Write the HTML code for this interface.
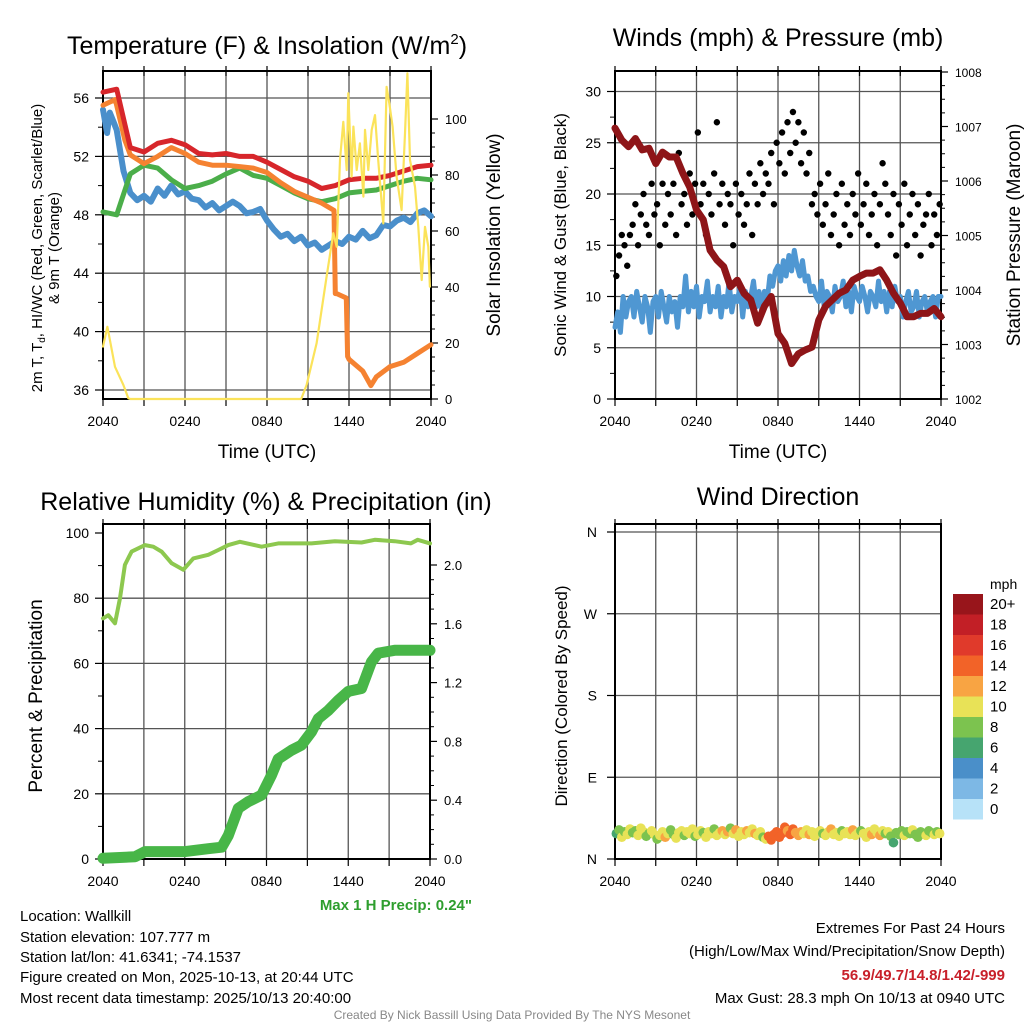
<!DOCTYPE html>
<html><head><meta charset="utf-8"><style>
html,body{margin:0;padding:0;background:#fff;}
svg{display:block;font-family:"Liberation Sans",Arial,sans-serif;}
</style></head><body>
<svg id="fig" width="1024" height="1024" viewBox="0 0 1024 1024" xmlns="http://www.w3.org/2000/svg">
<rect width="1024" height="1024" fill="#fff"/>
<g id="layer"></g>
<text x="267" y="54" font-size="25" text-anchor="middle">Temperature (F) &amp; Insolation (W/m<tspan font-size="15" dy="-10">2</tspan><tspan dy="10">)</tspan></text>
<text x="778" y="46" font-size="25" text-anchor="middle">Winds (mph) &amp; Pressure (mb)</text>
<text x="266" y="510" font-size="25" text-anchor="middle">Relative Humidity (%) &amp; Precipitation (in)</text>
<text x="778" y="505" font-size="25" text-anchor="middle">Wind Direction</text>
<text transform="translate(42,248) rotate(-90)" font-size="15" text-anchor="middle">2m T, T<tspan font-size="10" dy="3">d</tspan><tspan dy="-3">, HI/WC (Red, Green, Scarlet/Blue)</tspan></text>
<text transform="translate(59,248) rotate(-90)" font-size="15" text-anchor="middle">&amp; 9m T (Orange)</text>
<text transform="translate(500,235) rotate(-90)" font-size="19" text-anchor="middle">Solar Insolation (Yellow)</text>
<text x="267" y="458" font-size="19" text-anchor="middle">Time (UTC)</text>
<text x="778" y="458" font-size="19" text-anchor="middle">Time (UTC)</text>
<text transform="translate(566,235) rotate(-90)" font-size="17" text-anchor="middle">Sonic Wind &amp; Gust (Blue, Black)</text>
<text transform="translate(1020,235) rotate(-90)" font-size="19" text-anchor="middle">Station Pressure (Maroon)</text>
<text transform="translate(42,696) rotate(-90)" font-size="19" text-anchor="middle">Percent &amp; Precipitation</text>
<text transform="translate(567,696) rotate(-90)" font-size="17" text-anchor="middle">Direction (Colored By Speed)</text>
<text x="472" y="910" font-size="15" font-weight="bold" fill="#2e9e2e" text-anchor="end">Max 1 H Precip: 0.24"</text>
<g font-size="15">
<text x="20" y="921">Location: Wallkill</text>
<text x="20" y="942">Station elevation: 107.777 m</text>
<text x="20" y="962">Station lat/lon: 41.6341; -74.1537</text>
<text x="20" y="982">Figure created on Mon, 2025-10-13, at 20:44 UTC</text>
<text x="20" y="1003">Most recent data timestamp: 2025/10/13 20:40:00</text>
</g>
<g font-size="15" text-anchor="end">
<text x="1005" y="933">Extremes For Past 24 Hours</text>
<text x="1005" y="956">(High/Low/Max Wind/Precipitation/Snow Depth)</text>
<text x="1005" y="980" font-weight="bold" fill="#c8202a">56.9/49.7/14.8/1.42/-999</text>
<text x="1005" y="1003">Max Gust: 28.3 mph On 10/13 at 0940 UTC</text>
</g>
<text x="512" y="1019" font-size="12" fill="#888" text-anchor="middle">Created By Nick Bassill Using Data Provided By The NYS Mesonet</text>
</svg>
<script>
// ---------- DATA ----------
const xTickLabels=["2040","0240","0840","1440","2040"];
const tempTicks=[36,40,44,48,52,56];
const solarTicks=[0,20,40,60,80,100];
const windTicks=[0,5,10,15,20,25,30];
const presTicks=[1002,1003,1004,1005,1006,1007,1008];
const rhTicks=[0,20,40,60,80,100];
const precipTicks=["0.0","0.4","0.8","1.2","1.6","2.0"];
const dirTicks=["N","E","S","W","N"];
const hourly=[0,1,2,3,4,5,6,7,8,9,10,11,12,13,14,15,16,17,18,19,20,21,22,23,24];
const redT=[56.4,56.6,52.6,52.3,52.9,53.1,52.8,52.2,52.1,52.2,52.0,52.0,51.6,51.1,50.6,50.3,49.8,50.0,50.4,50.5,50.5,50.7,51.0,51.3,51.4];
const greenTd=[48.2,48.0,50.8,51.4,51.2,50.4,49.8,50.0,50.3,50.8,51.2,50.7,50.5,50.0,49.5,49.1,48.9,49.1,49.5,49.6,49.7,50.0,50.3,50.5,50.4];
const orangeHours=[0,0.9,1.6,2,3,4,5,6,7,8,9,10,11,12,13,14,15,16,16.9,17.0,17.1,17.8,17.9,18,19,19.6,20,21,22,23,24];
const orangeT=[55.5,55.9,53.1,52.1,51.5,52.0,52.6,52.2,51.6,51.4,51.4,51.3,51.2,50.9,50.2,49.6,49.2,48.8,48.3,42.6,42.6,42.3,38.3,38.1,37.3,36.3,36.9,37.6,37.9,38.5,39.1];
const blueHours=[0,0.3,0.5,0.8,1,1.5,2,2.5,3,3.5,4,4.5,5,5.5,6,6.5,7,7.5,8,8.5,9,9.5,10,10.5,11,11.5,12,12.5,13,13.5,14,14.5,15,15.5,16,16.5,17,17.5,18,18.5,19,19.5,20,20.5,21,21.5,22,22.5,23,23.5,24];
const blueT=[55.2,53.6,55.0,54.3,53.8,51.0,49.5,49.0,49.3,48.9,49.8,49.3,50.0,49.4,49.6,49.1,49.0,48.5,48.8,48.3,48.6,48.9,48.6,48.1,48.2,48.4,47.6,47.0,46.5,46.7,46.2,46.5,45.9,46.1,45.6,45.9,46.2,46.0,46.5,46.3,46.9,46.4,46.6,47.3,47.2,47.6,47.8,47.5,48.1,48.3,47.9];
const solarHours=[0,0.32,0.88,1.49,1.85,2,14.5,14.9,15.63,16.36,16.85,17.1,17.34,17.58,17.83,17.95,18.19,18.32,18.56,18.8,19.05,19.17,19.41,19.66,19.9,20.14,20.51,20.75,20.95,21.19,21.48,21.85,22.1,22.27,22.46,22.83,23.07,23.32,23.56,23.8,23.92];
const solarW=[18.7,25.8,11.5,5.0,0.3,0,0,5.0,19.9,43.7,59.2,54.4,85.4,99.0,81.8,109.2,79.4,97.3,81.8,91.3,72.3,96.1,81.8,96.1,101.4,85.4,62.7,111.5,105.6,97.3,79.4,67.5,94.9,116.3,85.4,75.8,61.5,42.5,61.5,54.4,40.1];
const windSpeed=[7,8.5,6.5,10,8,9.5,10,8,10.5,9,7.5,10,9,6.5,9.5,10,8,10.5,9,7.5,10,8.5,9.5,7,10,9,12,8.5,10.5,9,11,8,10,9.5,11.5,8.5,10,9,11,8,10,9,11.5,8.5,10,9.5,11,8,10.5,9,10,11.5,9,10.5,8.5,10.5,9.5,12,11,12.5,13,11.5,13.5,12,14,12.5,14.5,13,12,13.5,11.5,12,10.5,11,10,9.5,11.5,9,10.5,10,8.5,11,9.5,10,11.5,9,10.5,8.5,11,10,9.5,11,10,8.5,10.5,10,9,11.5,9.5,10.5,8.5,10.5,9,11,9.5,10,8,9.5,10.5,8.5,9,10.5,8,9.5,10,8.5,9.5,10,8,10,10];
const gustSpeed=[12,14,16,15,13,16,17,19,15,18,20,17,16,21,18,19,15,21,17,20,18,21,16,24,19,20,17,22,18,21,26,19,21,16,20,18,22,27,19,21,17,20,19,15,21,18,20,17,19,22,16,21,19,23,20,22,21,24,19,25,23,26,22,27,24,28,25,27,23,26,22,24,19,20,18,21,17,19,22,16,18,20,15,21,17,19,16,20,18,22,17,19,21,16,18,20,15,19,23,21,18,16,20,14,19,17,21,15,18,20,16,19,14,17,18,20,15,18,16,19];
const presHours=[0,0.5,1,1.5,2,2.5,3,3.5,4,4.5,5,5.5,6,6.5,7,7.5,8,8.5,9,9.5,10,10.5,11,11.5,12,12.5,13,13.5,14,14.5,15,15.5,16,16.5,17,17.5,18,18.5,19,19.5,20,20.5,21,21.5,22,22.5,23,23.5,24];
const pressure=[1006.97,1006.75,1006.63,1006.78,1006.57,1006.6,1006.32,1006.53,1006.44,1006.44,1006.14,1005.89,1005.47,1005.29,1004.73,1004.55,1004.43,1004.06,1004.18,1003.94,1003.82,1003.39,1003.7,1003.88,1003.2,1003.02,1002.65,1002.83,1002.9,1002.95,1003.45,1003.7,1003.82,1003.94,1004.0,1004.18,1004.25,1004.31,1004.31,1004.37,1004.18,1003.94,1003.76,1003.51,1003.51,1003.57,1003.57,1003.66,1003.51];
const rhHours=[0,0.39,0.88,1.25,1.61,2.1,3.08,3.69,4.3,5.04,5.89,6.63,7.73,8.46,9.2,10.05,11.64,12.86,15.3,17.02,18.97,19.95,21.4,22.6,23.1,24];
const rh=[73.8,74.8,72.3,80,90.2,94.3,96.3,95.8,94.3,90.7,88.7,92.2,93.3,94.8,96.3,97.3,95.8,96.8,96.8,97.5,97.1,97.9,97.5,96.8,97.9,96.8];
const precipHours=[0,2.35,3.08,6.02,7.73,8.71,9.2,9.93,10.66,11.64,12.37,12.86,13.84,14.57,15.3,15.8,16.53,17.27,18.0,18.97,19.7,20.2,21.4,24];
const precip=[0.005,0.015,0.05,0.05,0.07,0.08,0.16,0.345,0.39,0.435,0.57,0.68,0.74,0.775,0.865,0.955,1.01,1.08,1.14,1.16,1.34,1.40,1.42,1.42];
const windDir=[28,32,24,30,27,33,29,31,26,34,30,25,28,31,27,22,26,30,24,28,32,27,23,29,31,26,30,28,33,25,27,31,29,24,30,28,33,26,29,31,27,30,34,28,32,25,30,27,31,29,33,28,26,30,24,22,25,21,27,30,24,28,35,31,27,33,29,26,30,28,32,27,30,25,29,31,28,26,30,33,27,29,25,31,28,30,27,32,26,29,31,28,24,30,27,33,29,26,31,28,30,25,18,29,27,31,26,30,28,32,27,24,30,28,26,31,29,27,30,28];
const dirSpeed=[7,8,10,9,11,10,8,9,10,11,10,9,8,10,11,9,10,11,12,10,9,8,10,11,10,9,10,11,10,9,10,11,8,10,11,10,9,11,10,12,11,12,9,10,12,11,10,11,12,10,11,12,11,10,9,11,14,15,14,15,14,15,14,13,15,14,12,13,12,11,10,12,11,10,11,10,9,11,10,12,10,11,10,9,10,11,10,12,11,10,9,11,10,11,12,10,11,12,10,9,10,8,7,9,8,9,10,8,9,10,8,9,8,9,10,8,9,10,9,10];
const cbLabels=["20+","18","16","14","12","10","8","6","4","2","0"];
const cbColors=["#98151b","#c21f26","#e03a2b","#f26328","#f8a443","#e8e257","#7cc34f","#46a56f","#4a8fc9","#7db8e5","#b7e2f8"];

// ---------- DRAWING ----------
const NS="http://www.w3.org/2000/svg";
const layer=document.getElementById('layer');
function mk(tag,attrs,parent){const e=document.createElementNS(NS,tag);for(const k in attrs)e.setAttribute(k,attrs[k]);(parent||layer).appendChild(e);return e;}
function txt(x,y,s,size,anchor,parent){const t=mk('text',{x:x,y:y,'font-size':size,'text-anchor':anchor},parent);t.textContent=s;return t;}
const P1={L:103,R:431,T:71,B:399},P2={L:615,R:941,T:71,B:399},P3={L:103,R:430,T:524,B:859},P4={L:615,R:941,T:524,B:859};
function xs(P){return h=>P.L+h*(P.R-P.L)/24;}
const x1=xs(P1),x2=xs(P2),x3=xs(P3),x4=xs(P4);
const yTemp=v=>98+(56-v)*14.6, ySolar=v=>399-v*2.8;
const yWind=v=>399-v*10.25, yPres=v=>399-(v-1002)*54.5;
const yRH=v=>859-v*3.26, yPrecip=v=>859-v*147;
const yDir=v=>859-v*(327/360);

function frame(P,name,xf,hGrid){
  const g=mk('g',{});
  
  
  for(let h=3;h<24;h+=3){const l=mk('line',{x1:xf(h),x2:xf(h),y1:P.T,y2:P.B,stroke:'#555','stroke-width':1.3},g);
    
    }
  hGrid.forEach(y=>{const l=mk('line',{x1:P.L,x2:P.R,y1:y,y2:y,stroke:'#555','stroke-width':1.3},g);
    
    });
  for(let h=0;h<=24;h+=3){
    mk('line',{x1:xf(h),x2:xf(h),y1:P.B,y2:P.B+7,stroke:'#000','stroke-width':1.2},g);
    mk('line',{x1:xf(h),x2:xf(h),y1:P.T-5,y2:P.T+5,stroke:'#000','stroke-width':1.2},g);
  }
  xTickLabels.forEach((s,i)=>{const t=txt(xf(i*6),P.B+27,s,14,'middle',g);
    
    });
  return g;
}
function frameBox(P,g){const r=mk('rect',{x:P.L,y:P.T,width:P.R-P.L,height:P.B-P.T,fill:'none',stroke:'#000','stroke-width':2},g);
  
  }
function leftTicks(P,vals,yf,labels,g,minor){
  vals.forEach((v,i)=>{mk('line',{x1:P.L-8,x2:P.L,y1:yf(v),y2:yf(v),stroke:'#000','stroke-width':1.2},g);
    const t=txt(P.L-14,yf(v)+5,labels?labels[i]:String(v),14,'end',g);
    
    });
  if(minor)for(let i=0;i<vals.length-1;i++){const m=(vals[i]+vals[i+1])/2;mk('line',{x1:P.L-5,x2:P.L,y1:yf(m),y2:yf(m),stroke:'#000','stroke-width':1},g);}
}
function rightTicks(P,vals,yf,labels,g,nm){
  vals.forEach((v,i)=>{mk('line',{x1:P.R,x2:P.R+7,y1:yf(v),y2:yf(v),stroke:'#000','stroke-width':1.2},g);
    const t=txt(P.R+14,yf(v)+5,labels?labels[i]:String(v),nm||13,'start',g);
    
    });
  for(let i=0;i<vals.length-1;i++){for(let k=1;k<4;k++){const m=vals[i]+(vals[i+1]-vals[i])*k/4;mk('line',{x1:P.R,x2:P.R+4,y1:yf(m),y2:yf(m),stroke:'#000','stroke-width':1},g);}}
}
function line(hs,vs,xf,yf,color,w,name){
  const d=hs.map((h,i)=>(i?'L':'M')+xf(h).toFixed(1)+' '+yf(vs[i]).toFixed(1)).join(' ');
  const p=mk('path',{d:d,fill:'none',stroke:color,'stroke-width':w,'stroke-linejoin':'round','stroke-linecap':'round'});
  
  
  return p;
}

// Panel 1
let g1=frame(P1,'temperature',x1,tempTicks.map(yTemp));
leftTicks(P1,tempTicks,yTemp,null,g1,true);
rightTicks(P1,solarTicks,ySolar,null,g1);
line(blueHours,blueT,x1,yTemp,'#4a8fcb',6,'wind-chill-line');
line(hourly,greenTd,x1,yTemp,'#4bae4a',5,'dewpoint-line');
line(orangeHours,orangeT,x1,yTemp,'#f58231',5,'temp-9m-line');
line(hourly,redT,x1,yTemp,'#d7262b',5,'temp-2m-line');
line(solarHours,solarW,x1,ySolar,'#fbe35a',2.2,'solar-insolation-line');
frameBox(P1,g1);

// Panel 2
let g2=frame(P2,'wind',x2,windTicks.filter(v=>v>0).map(yWind));
leftTicks(P2,windTicks,yWind,null,g2,true);
rightTicks(P2,presTicks,yPres,null,g2,12);
line(windSpeed.map((v,i)=>i*0.2),windSpeed,x2,yWind,'#4f97d2',5,'sonic-wind-line');
gustSpeed.forEach((v,i)=>{const c=mk('circle',{cx:x2(i*0.2+0.1),cy:yWind(v),r:3.2,fill:'#000'});
  
  });
line(presHours,pressure,x2,yPres,'#8e1518',7,'pressure-line');
frameBox(P2,g2);

// Panel 3
let g3=frame(P3,'humidity',x3,rhTicks.filter(v=>v>0&&v<100).map(yRH));
leftTicks(P3,rhTicks,yRH,null,g3,true);
rightTicks(P3,precipTicks.map(Number),yPrecip,precipTicks,g3);
line(rhHours,rh,x3,yRH,'#8dc84f',4,'relative-humidity-line');
line(precipHours,precip,x3,yPrecip,'#48b648',11,'precipitation-line');
frameBox(P3,g3);

// Panel 4
let g4=frame(P4,'direction',x4,[90,180,270,360].map(yDir));
dirTicks.forEach((s,i)=>{mk('line',{x1:P4.L-8,x2:P4.L,y1:yDir(i*90),y2:yDir(i*90),stroke:'#000','stroke-width':1.2},g4);
  const t=txt(P4.L-18,yDir(i*90)+5,s,14,'end',g4);
  
  });
function spdColor(s){const idx=Math.min(10,Math.floor(s/2));return cbColors[10-idx];}
windDir.forEach((d,i)=>{const c=mk('circle',{cx:x4(i*0.2+0.1),cy:yDir(d),r:4.8,fill:spdColor(dirSpeed[i])});
  
  });
frameBox(P4,g4);

// Colorbar
const cb=mk('g',{});


const ut=txt(990,589,'mph',14,'start',cb);


cbColors.forEach((c,i)=>{const r=mk('rect',{x:953,y:594+i*20.5,width:30,height:20.5,fill:c},cb);
  
  
  const t=txt(990,609+i*20.5,cbLabels[i],15,'start',cb);
  
  });
</script>
</body></html>
